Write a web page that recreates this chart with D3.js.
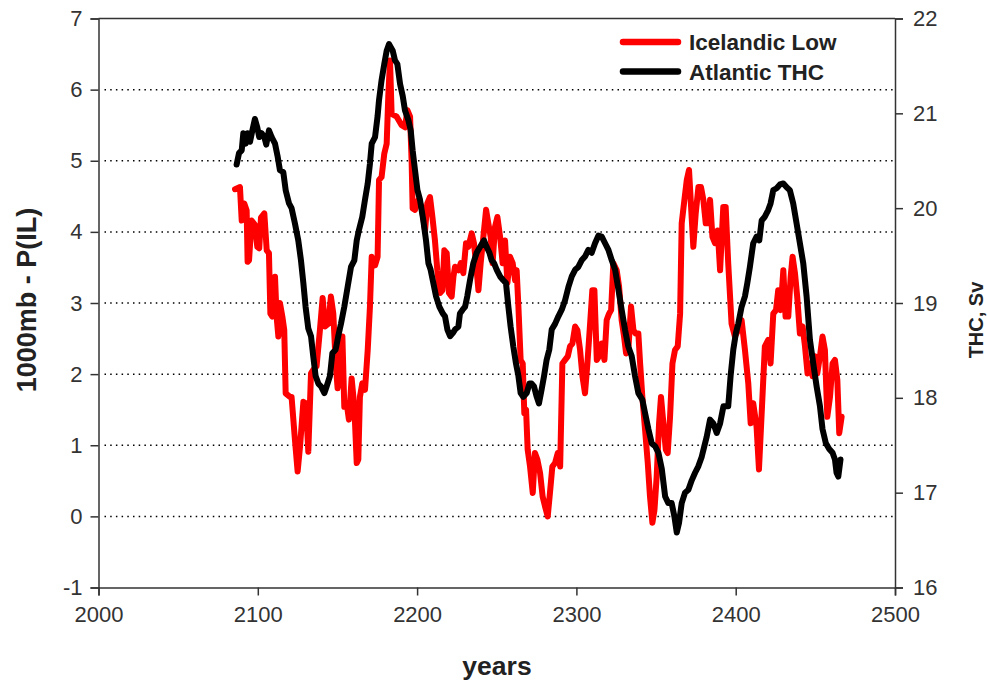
<!DOCTYPE html>
<html>
<head>
<meta charset="utf-8">
<script src="https://cdn.jsdelivr.net/npm/d3@7"></script>
<style>
  body { margin: 0; background: #fff; }
  svg text { font-family: "Liberation Sans", Arial, sans-serif; }
</style>
</head>
<body>
<svg id="chart" width="987" height="681"></svg>
<script>
// Icelandic Low index, 1000mb - P(IL), left axis
var redYears = [2085.7,2088.8,2089.9,2091.5,2093.0,2093.6,2094.5,2096.1,2098.2,2099.7,2100.9,2102.0,2104.1,2105.6,2107.0,2107.9,2109.1,2110.8,2111.8,2112.9,2113.9,2115.4,2116.6,2117.5,2120.2,2121.2,2123.3,2125.0,2126.5,2128.6,2130.2,2131.7,2133.4,2134.8,2136.9,2139.0,2140.7,2142.2,2144.3,2145.9,2147.4,2148.9,2150.1,2151.6,2153.1,2154.3,2155.8,2157.2,2158.9,2160.6,2162.1,2163.1,2164.1,2165.6,2167.3,2169.0,2170.4,2171.5,2173.6,2175.2,2176.1,2177.7,2179.4,2180.9,2181.9,2183.0,
  2184.0,2187.2,2190.3,2192.4,2193.9,2195.6,2196.6,2197.2,2198.7,2200.8,2202.9,2205.0,2206.4,2208.1,2209.6,2211.2,2212.7,2214.4,2215.9,2217.1,2218.6,2220.0,2221.7,2222.8,2223.8,2225.9,2227.4,2229.0,2230.7,2232.2,2234.3,2235.7,2237.0,2238.5,2239.9,2241.6,2243.3,2244.7,2246.2,2247.4,2248.9,2250.4,2252.1,2253.7,2255.2,2256.7,2258.3,2260.0,2261.5,2262.5,2263.6,2265.0,2266.3,2267.3,2268.4,2269.4,2270.9,2272.6,2274.0,2275.5,2277.2,2278.8,2280.3,2282.0,2283.4,2284.9,2286.6,
  2288.3,2289.8,2291.2,2292.9,2294.6,2296.0,2297.5,2299.2,2300.6,2302.3,2303.8,2305.4,2306.9,2308.6,2310.0,2311.3,2312.8,2314.2,2315.9,2317.6,2319.0,2320.5,2321.8,2323.2,2325.3,2326.8,2328.4,2329.9,2331.2,2332.6,2334.3,2335.8,2337.2,2338.9,2340.0,2341.4,2343.1,2344.8,2346.2,2347.7,2349.0,2350.4,2351.9,2353.1,2354.6,2356.1,2357.3,2358.8,2360.3,2361.9,2363.6,2365.1,2366.1,2367.8,2369.3,2370.7,2372.0,2373.4,2374.9,2376.6,2378.2,2379.7,2381.2,2382.4,2383.9,2385.4,2387.0,2388.7,2390.2,
  2392.2,2393.7,2395.3,2397.4,2399.5,2401.6,2403.7,2405.8,2407.9,2409.4,2411.0,2413.1,2414.6,2416.3,2418.3,2420.4,2421.9,2423.6,2425.3,2426.7,2428.2,2429.9,2431.3,2433.0,2434.5,2435.7,2437.2,2438.6,2440.3,2442.0,2443.5,2445.1,2446.6,2448.3,2449.7,2451.2,2452.9,2454.5,2456.0,2457.5,2459.2,2460.8,2462.3,2463.8,2465.0,2466.5];
var redValues = [4.60,4.63,4.16,4.40,4.30,3.58,3.60,4.16,4.10,3.79,3.77,4.20,4.26,3.74,3.70,2.85,2.81,3.37,2.81,2.53,3.00,2.81,2.62,1.73,1.68,1.68,1.08,0.63,0.98,1.61,1.59,0.91,2.01,2.06,2.11,2.62,3.07,2.67,2.71,3.09,2.85,2.15,1.80,2.15,2.53,1.54,1.59,1.36,1.94,1.54,0.75,0.80,1.68,1.87,1.78,2.34,2.95,3.65,3.53,3.65,4.73,4.77,5.10,5.24,5.90,6.41,
  5.66,5.62,5.50,5.47,5.71,5.62,4.96,4.33,4.31,4.45,4.35,4.02,4.40,4.49,4.21,3.88,3.46,3.14,3.18,3.74,3.70,3.14,3.09,3.37,3.51,3.46,3.56,3.42,3.84,3.79,3.98,3.84,3.56,3.18,3.56,3.93,4.31,4.12,3.93,3.56,4.07,4.21,3.93,3.56,3.88,3.28,3.65,3.56,3.32,3.46,2.95,2.20,2.15,1.45,1.50,0.94,0.70,0.33,0.89,0.80,0.61,0.28,0.14,0.00,0.33,0.70,0.75,
  0.89,0.70,2.15,2.20,2.25,2.39,2.43,2.67,2.62,2.34,1.97,1.73,2.15,2.71,3.18,3.18,2.20,2.25,2.43,2.20,2.76,2.85,2.90,3.56,3.46,3.23,2.76,2.53,2.29,2.34,2.95,2.62,2.57,2.57,2.15,1.68,1.22,0.75,0.28,-0.09,0.09,0.56,1.31,1.68,1.31,0.94,0.89,1.40,2.15,2.34,2.39,2.85,4.12,4.45,4.73,4.87,4.35,3.79,4.26,4.63,4.63,4.45,4.12,4.12,4.45,3.93,3.84,4.02,3.46,
  4.35,4.35,3.56,2.71,2.53,2.62,2.76,2.34,1.87,1.31,1.59,1.26,0.66,1.45,2.39,2.48,2.15,2.85,2.90,3.18,2.90,3.46,2.81,2.81,3.37,3.65,3.42,3.09,2.57,2.67,2.39,2.01,2.15,1.97,2.25,2.01,2.25,2.53,2.34,1.40,1.68,2.15,2.20,1.92,1.17,1.40];

// Atlantic THC, Sv, right axis
var blackYears = [2086.7,2088.2,2089.9,2090.9,2092.4,2093.6,2095.1,2096.6,2098.2,2099.7,2100.9,2102.4,2104.1,2105.3,2107.0,2108.7,2110.8,2112.5,2113.9,2116.0,2117.5,2119.6,2121.2,2123.3,2125.4,2127.1,2128.6,2130.0,2131.7,2133.4,2134.8,2136.3,2138.0,2139.7,2141.8,2143.2,2145.3,2146.8,2148.9,2150.5,2152.2,2154.3,2156.4,2158.5,2160.6,2162.1,2163.5,2165.6,2167.3,2169.0,2170.4,2171.5,2173.6,2175.2,2176.1,2177.7,2179.4,2180.9,2182.4,
  2184.7,2186.1,2187.6,2189.3,2191.0,2192.4,2194.5,2196.0,2197.2,2198.7,2200.2,2201.8,2203.9,2205.6,2207.1,2208.5,2210.2,2211.9,2214.0,2216.1,2217.5,2219.0,2220.7,2222.3,2223.8,2225.9,2226.9,2228.6,2230.1,2231.5,2233.2,2235.3,2237.4,2239.5,2242.0,2243.7,2245.4,2246.8,2248.3,2250.0,2252.1,2254.1,2255.8,2257.3,2258.7,2260.4,2262.1,2263.6,2265.0,2266.7,2268.8,2270.5,2271.9,2273.4,2275.1,2276.5,2278.2,2279.7,2281.3,2283.0,2284.5,2286.6,
  2288.7,2290.8,2292.9,2295.0,2297.1,2299.2,2301.2,2303.3,2305.4,2307.5,2309.6,2311.7,2313.8,2315.9,2318.0,2320.1,2322.2,2324.3,2326.4,2328.4,2330.5,2332.6,2334.7,2336.8,2338.9,2341.4,2343.1,2345.2,2347.3,2349.4,2351.5,2353.6,2355.7,2357.7,2359.8,2361.5,2363.0,2364.4,2366.1,2368.2,2370.3,2372.4,2374.5,2376.6,2378.7,2380.3,2381.8,2383.9,2386.0,2388.1,2390.2,2392.3,
  2395.3,2396.8,2398.5,2400.1,2401.6,2403.7,2405.8,2407.3,2408.9,2411.0,2413.1,2414.8,2416.3,2418.3,2420.4,2421.9,2423.6,2425.7,2427.8,2429.9,2432.0,2434.0,2436.1,2438.2,2440.3,2442.4,2444.5,2446.6,2448.7,2450.8,2452.9,2454.5,2456.6,2458.7,2460.8,2462.3,2463.3,2464.4,2465.8];
var blackValues = [20.46,20.58,20.61,20.79,20.68,20.79,20.70,20.82,20.94,20.85,20.75,20.79,20.75,20.67,20.82,20.75,20.68,20.54,20.40,20.38,20.19,20.05,20.00,19.84,19.66,19.45,19.21,18.96,18.73,18.65,18.44,18.23,18.15,18.12,18.05,18.12,18.23,18.47,18.51,18.65,18.78,18.96,19.17,19.38,19.45,19.66,19.77,19.91,20.09,20.26,20.47,20.68,20.75,20.97,21.14,21.35,21.52,21.66,21.73,
  21.66,21.56,21.52,21.31,21.18,21.03,20.93,20.82,20.61,20.40,20.19,20.09,19.87,19.66,19.42,19.35,19.21,19.07,18.96,18.89,18.86,18.72,18.65,18.68,18.72,18.75,18.89,18.93,18.96,19.07,19.24,19.42,19.53,19.59,19.66,19.59,19.53,19.45,19.42,19.35,19.28,19.24,19.21,18.96,18.75,18.54,18.36,18.23,18.05,18.01,18.05,18.15,18.15,18.12,18.01,17.94,18.09,18.23,18.40,18.51,18.72,18.78,
  18.86,18.93,19.03,19.17,19.28,19.35,19.38,19.45,19.49,19.56,19.53,19.63,19.71,19.70,19.63,19.56,19.45,19.35,19.14,18.93,18.72,18.54,18.44,18.23,18.05,17.98,17.84,17.67,17.52,17.49,17.42,17.25,16.96,16.89,16.89,16.75,16.58,16.68,16.89,17.00,17.03,17.13,17.21,17.28,17.38,17.49,17.59,17.77,17.73,17.63,17.73,17.91,
  17.91,18.23,18.51,18.68,18.78,18.96,19.07,19.21,19.38,19.63,19.70,19.66,19.87,19.91,19.98,20.05,20.19,20.21,20.25,20.26,20.22,20.19,20.05,19.84,19.63,19.42,19.07,18.61,18.36,18.12,17.91,17.67,17.52,17.46,17.42,17.35,17.21,17.17,17.35];

var xTicks = [2000, 2100, 2200, 2300, 2400, 2500];
var leftTicks = [-1, 0, 1, 2, 3, 4, 5, 6, 7];
var rightTicks = [16, 17, 18, 19, 20, 21, 22];
var gridValues = [0, 1, 2, 3, 4, 5, 6];
var seriesNames = ["Icelandic Low", "Atlantic THC"];
var seriesColors = ["#ff0000", "#000000"];

var svg = d3.select("#chart");
// plot box in pixels
var plotLeft = 98.5, plotRight = 895, plotTop = 18.5, plotBottom = 587.5;

var x = d3.scaleLinear().domain([2000, 2500]).range([plotLeft, plotRight]);
var yL = d3.scaleLinear().domain([-1, 7]).range([plotBottom, plotTop]);
var yR = d3.scaleLinear().domain([16, 22]).range([plotBottom, plotTop]);

var axisColor = "#333";
var labelColor = "#333";
// plain hyphen for negatives, like the original
var plainFormat = function(d) { return String(d); };

// dotted gridlines
svg.append("g").selectAll("line")
  .data(gridValues)
  .enter().append("line")
  .attr("x1", plotLeft + 6).attr("x2", plotRight - 1)
  .attr("y1", function(d) { return yL(d); })
  .attr("y2", function(d) { return yL(d); })
  .attr("stroke", "#000")
  .attr("stroke-width", 1.5)
  .attr("stroke-dasharray", "1.5,4.2");

// plot frame top line
svg.append("line")
  .attr("x1", plotLeft).attr("x2", plotRight)
  .attr("y1", plotTop).attr("y2", plotTop)
  .attr("stroke", axisColor).attr("stroke-width", 1.5);

// axes
var gx = svg.append("g")
  .attr("transform", "translate(0," + plotBottom + ")")
  .call(d3.axisBottom(x).tickValues(xTicks).tickSize(8).tickFormat(plainFormat));
var gl = svg.append("g")
  .attr("transform", "translate(" + plotLeft + ",0)")
  .call(d3.axisLeft(yL).tickValues(leftTicks).tickSize(8).tickFormat(plainFormat));
var gr = svg.append("g")
  .attr("transform", "translate(" + plotRight + ",0)")
  .call(d3.axisRight(yR).tickValues(rightTicks).tickSize(8).tickFormat(plainFormat));

[gx, gl, gr].forEach(function(g) {
  g.select(".domain").attr("stroke", axisColor).attr("stroke-width", 1.5);
  g.selectAll(".tick line").attr("stroke", axisColor).attr("stroke-width", 1.5);
  g.selectAll(".tick text")
    .attr("fill", labelColor)
    .style("font-size", "22px")
    .style("font-family", "'Liberation Sans', Arial, sans-serif");
});
gx.selectAll(".tick text").attr("dy", "1.05em");
gl.selectAll(".tick text").attr("x", -16);
gr.selectAll(".tick text").attr("x", 18);

// series
var redLine = d3.line()
  .x(function(d, i) { return x(redYears[i]); })
  .y(function(d) { return yL(d); });
var blackLine = d3.line()
  .x(function(d, i) { return x(blackYears[i]); })
  .y(function(d) { return yR(d); });

svg.append("path")
  .datum(redValues)
  .attr("d", redLine)
  .attr("fill", "none")
  .attr("stroke", seriesColors[0])
  .attr("stroke-width", 6)
  .attr("stroke-linejoin", "round")
  .attr("stroke-linecap", "round");

svg.append("path")
  .datum(blackValues)
  .attr("d", blackLine)
  .attr("fill", "none")
  .attr("stroke", seriesColors[1])
  .attr("stroke-width", 6)
  .attr("stroke-linejoin", "round")
  .attr("stroke-linecap", "round");

// legend
var legend = svg.append("g").attr("transform", "translate(623,42)");
seriesNames.forEach(function(name, i) {
  var row = legend.append("g").attr("transform", "translate(0," + (i * 29.5) + ")");
  row.append("line")
    .attr("x1", 0).attr("x2", 55)
    .attr("y1", 0).attr("y2", 0)
    .attr("stroke", seriesColors[i])
    .attr("stroke-width", 6.5)
    .attr("stroke-linecap", "round");
  row.append("text")
    .attr("x", 66).attr("y", 8)
    .attr("fill", "#222")
    .style("font-size", "22.5px")
    .style("font-weight", "bold")
    .text(name);
});

// axis titles
svg.append("text")
  .attr("transform", "translate(36,300) rotate(-90)")
  .attr("text-anchor", "middle")
  .attr("fill", "#222")
  .style("font-size", "27px")
  .style("font-weight", "bold")
  .text("1000mb - P(IL)");

svg.append("text")
  .attr("transform", "translate(983,320) rotate(-90)")
  .attr("text-anchor", "middle")
  .attr("fill", "#222")
  .style("font-size", "20px")
  .style("font-weight", "bold")
  .text("THC, Sv");

svg.append("text")
  .attr("x", 497).attr("y", 675)
  .attr("text-anchor", "middle")
  .attr("fill", "#222")
  .style("font-size", "26.5px")
  .style("font-weight", "bold")
  .text("years");
</script>
</body>
</html>
